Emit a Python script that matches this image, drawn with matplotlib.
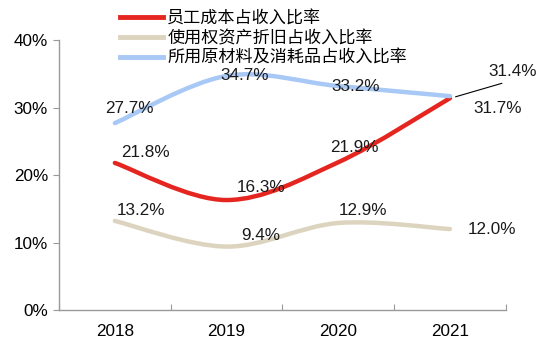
import matplotlib.pyplot as plt
from matplotlib.path import Path
from matplotlib.patches import PathPatch
import numpy as np

plt.rcParams['font.family'] = ['Liberation Sans', 'Noto Sans CJK SC', 'DejaVu Sans']

years = ["2018", "2019", "2020", "2021"]
staff_cost = [21.8, 16.3, 21.9, 31.4]
rou_depr = [13.2, 9.4, 12.9, 12.0]
materials = [27.7, 34.7, 33.2, 31.7]

series_names = ["员工成本占收入比率", "使用权资产折旧占收入比率", "所用原材料及消耗品占收入比率"]
colors = ["#E52620", "#DDD4C0", "#A8C8F6"]
FS = 12.3

# label offsets (in data units: x, y) relative to each point
label_offsets = {
    0: [(0.27, 1.6), (0.31, 1.9), (0.14, 2.2), None],
    1: [(0.23, 1.5), (0.31, 1.6), (0.22, 1.8), (0.38, 0.0)],
    2: [(0.13, 2.2), (0.16, 0.0), (0.16, 0.0), (0.43, -1.8)],
}


def smooth_path(xs, ys):
    # bezier segments like office "smoothed line"
    pts = np.column_stack([xs, ys]).astype(float)
    n = len(pts)
    verts = [pts[0]]
    codes = [Path.MOVETO]
    for i in range(n - 1):
        p0 = pts[i - 1] if i > 0 else pts[i]
        p1 = pts[i]
        p2 = pts[i + 1]
        p3 = pts[i + 2] if i + 2 < n else pts[i + 1]
        c1 = p1 + (p2 - p0) / 6.0
        c2 = p2 - (p3 - p1) / 6.0
        verts += [c1, c2, p2]
        codes += [Path.CURVE4] * 3
    return Path(verts, codes)


fig = plt.figure(figsize=(5.54, 3.46), dpi=100)
ax = fig.add_axes([0.1065, 0.104, 0.8065, 0.78])

x = np.arange(len(years))
all_series = [staff_cost, rou_depr, materials]
handles = []
for idx in [1, 0, 2]:
    vals = all_series[idx]
    patch = PathPatch(smooth_path(x, vals), facecolor="none", edgecolor=colors[idx],
                      lw=3.2, capstyle="round", zorder=3)
    ax.add_patch(patch)

for idx in range(3):
    h, = ax.plot([], [], color=colors[idx], lw=3.5, label=series_names[idx])
    handles.append(h)

for idx, vals in enumerate(all_series):
    for i, v in enumerate(vals):
        off = label_offsets[idx][i]
        if off is None:
            continue
        ax.text(x[i] + off[0], v + off[1], "%.1f%%" % v, ha="center", va="center",
                fontsize=FS, color="#1a1a1a", zorder=6)

# leader line for the 2021 staff cost label
ax.annotate("%.1f%%" % staff_cost[3], xy=(x[3] + 0.05, staff_cost[3] + 0.2),
            xytext=(x[3] + 0.565, staff_cost[3] + 3.9), ha="center", va="center",
            fontsize=FS, color="#1a1a1a",
            arrowprops=dict(arrowstyle="-", color="black", lw=0.8,
                            shrinkA=3, shrinkB=0, relpos=(0.55, 0.0)))

ax.set_xlim(-0.5, 3.5)
ax.set_ylim(0, 40)
ax.set_yticks([0, 10, 20, 30, 40])
ax.set_yticklabels(["%d%%" % t for t in [0, 10, 20, 30, 40]], fontsize=FS)
ax.set_xticks([-0.5, 0.5, 1.5, 2.5, 3.5])
ax.set_xticklabels([])
ax.set_xticks(x, minor=True)
ax.set_xticklabels(years, minor=True, fontsize=FS)
ax.tick_params(axis="x", which="major", direction="in", length=4, color="#999999")
ax.tick_params(axis="x", which="minor", length=0, pad=10)
ax.tick_params(axis="y", direction="out", length=4, color="#999999", pad=4)

for s in ["top", "right"]:
    ax.spines[s].set_visible(False)
for s in ["left", "bottom"]:
    ax.spines[s].set_color("#999999")
    ax.spines[s].set_linewidth(1.0)

fig.legend(handles=handles, loc="upper left", bbox_to_anchor=(0.217, 0.97),
           frameon=False, fontsize=FS, handlelength=2.5, handletextpad=0.25,
           labelspacing=0.2, borderaxespad=0, borderpad=0)

fig.savefig("out.png", dpi=100)
